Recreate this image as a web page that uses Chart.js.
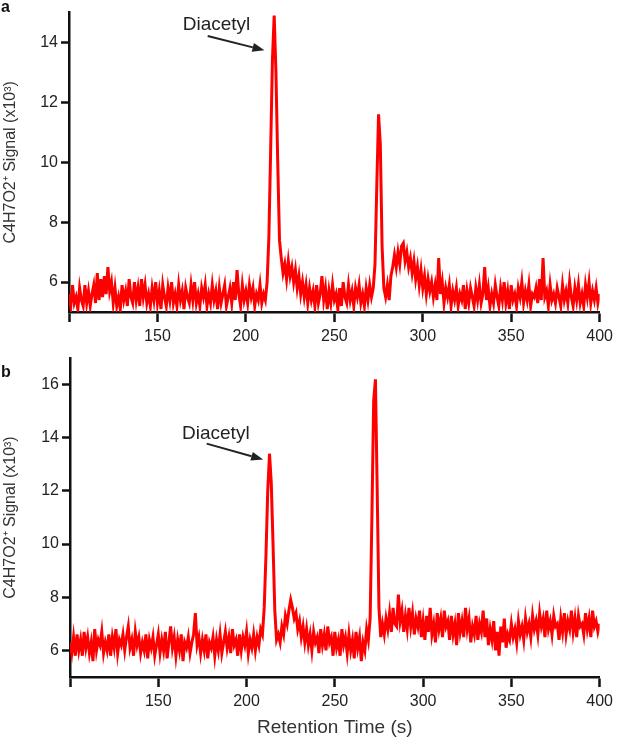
<!DOCTYPE html>
<html>
<head>
<meta charset="utf-8">
<script src="https://cdn.jsdelivr.net/npm/chart.js@4.4.1/dist/chart.umd.min.js"></script>
<style>
html,body{margin:0;padding:0;background:#fff;}
body{width:618px;height:741px;position:relative;overflow:hidden;font-family:"Liberation Sans",Arial,sans-serif;}
.panel{position:absolute;left:0;width:618px;}
#wrapA{top:0;height:345px;}
#wrapB{top:345px;height:396px;}
.tag{position:absolute;left:1px;font-weight:bold;font-size:16px;line-height:16px;color:#111;}
</style>
</head>
<body>
<div class="panel" id="wrapA"><canvas id="chartA"></canvas></div>
<div class="panel" id="wrapB"><canvas id="chartB"></canvas></div>
<div class="tag" style="top:-1px">a</div>
<div class="tag" style="top:364px">b</div>
<script>
/* GC retention traces, C4H7O2+ signal, panels a and b */

var T0=100, DT=1;            // first sample (s) and sampling step (s)
var xTicks=[100,150,200,250,300,350,400];
var yTicksA=[6,8,10,12,14];
var yTicksB=[6,8,10,12,14,16];
var yTitle='C4H7O2\u207A Signal (x10\u00B3)';
var xTitle='Retention Time (s)';

// panel a, one value per second from 100 s to 400 s (x10^3)
var signalA=[
  5.6,5.2,5.9,5.3,5.5,5.1,5.8,5.4,5.2,5.9,
  5.3,5.7,5.2,5.6,5.9,5.3,6.3,5.4,6.1,5.5,
  6.2,5.6,6.5,5.7,6.0,5.3,5.8,5.2,5.5,5.1,
  5.9,5.4,5.7,5.2,6.1,5.5,5.3,6.0,5.4,5.8,
  5.2,6.1,5.5,5.9,5.3,5.6,5.2,5.8,5.4,6.0,
  5.3,5.7,5.1,5.9,5.5,5.2,5.8,5.4,6.0,5.3,
  5.6,5.2,5.9,5.4,5.7,5.1,5.8,5.5,5.3,5.9,
  5.4,6.0,5.3,5.6,5.2,5.8,5.5,5.9,5.2,5.6,
  5.3,5.9,5.4,5.7,5.1,5.8,5.3,5.6,5.9,5.2,
  5.5,5.8,5.3,6.0,5.4,6.4,5.6,5.2,5.9,5.4,
  5.7,5.3,5.9,5.5,5.8,5.2,5.6,5.4,5.9,5.3,
  5.6,5.4,6.0,7.5,10.4,13.4,14.9,13.0,10.0,7.4,
  6.8,6.3,6.6,6.1,6.7,6.2,6.5,6.0,6.4,5.8,
  6.2,5.6,6.0,5.5,5.9,5.3,5.8,5.4,5.7,5.2,
  5.9,5.3,5.6,6.2,5.4,5.8,5.1,5.7,5.3,5.9,
  5.4,5.6,5.1,5.8,5.2,6.0,5.5,5.3,5.9,5.4,
  5.7,5.2,5.8,5.5,5.9,5.3,5.6,5.2,5.8,5.4,
  5.9,5.5,5.8,6.6,9.2,11.6,10.6,7.2,5.8,5.5,
  5.9,5.4,6.2,6.5,6.9,6.5,7.0,6.6,7.2,7.3,
  6.7,7.0,6.5,6.8,6.3,6.7,6.1,6.5,5.9,6.4,
  5.8,6.2,5.6,6.1,5.7,6.0,5.5,5.9,5.4,6.8,
  5.6,6.0,5.3,5.8,5.5,5.9,5.2,5.7,5.4,5.8,
  5.2,5.6,5.4,5.9,5.1,5.7,5.3,5.8,5.5,5.2,
  5.8,5.4,5.9,5.3,5.6,6.5,5.4,5.8,5.2,5.6,
  5.3,5.9,5.5,5.2,5.8,5.4,6.0,5.3,5.7,5.1,
  5.9,5.4,5.6,5.2,5.8,5.5,6.0,5.3,5.7,5.4,
  5.9,5.2,5.6,5.5,5.8,5.3,6.1,5.4,6.8,5.5,
  5.7,5.2,5.9,5.4,5.6,5.3,5.8,5.5,5.2,5.9,
  5.4,5.7,5.3,6.0,5.5,5.2,5.8,5.4,5.9,5.3,
  5.6,5.2,5.9,5.5,6.0,5.3,5.7,5.4,5.8,5.3,
  5.6
];

// panel b, same sampling
var signalB=[
  6.3,5.9,6.5,5.8,6.6,6.0,6.4,5.8,6.7,6.1,
  6.5,5.9,6.3,5.6,6.8,6.0,6.4,6.2,6.7,5.9,
  6.3,6.0,6.6,5.8,6.5,6.1,6.8,5.9,6.4,6.2,
  6.6,6.0,6.5,6.9,6.1,6.4,5.8,6.7,6.2,6.5,
  5.9,6.3,6.0,6.6,5.7,6.4,6.1,6.5,5.8,6.2,
  6.6,5.9,6.4,6.0,6.7,5.7,6.3,6.9,6.1,6.5,
  5.8,6.4,6.0,6.6,5.6,6.3,6.1,6.5,5.9,6.3,
  6.6,7.4,6.2,6.5,5.9,6.4,6.0,6.6,5.7,6.3,
  6.1,6.5,5.8,6.4,6.0,6.6,5.9,6.3,6.7,6.1,
  6.5,5.9,6.8,6.2,6.4,5.8,6.6,6.0,6.5,6.2,
  6.7,5.9,6.4,6.1,6.6,6.0,6.5,6.2,6.8,6.6,
  7.6,9.6,12.0,13.4,12.3,10.0,7.5,6.4,6.6,6.3,
  6.9,6.6,7.3,7.0,7.5,7.9,7.6,7.2,7.4,6.8,
  7.1,6.5,6.9,6.3,6.8,6.2,6.6,6.0,6.7,6.3,
  6.5,5.9,6.8,6.2,6.6,6.0,6.9,6.3,6.5,5.8,
  6.7,6.1,6.4,5.8,6.8,6.2,6.5,5.9,6.6,6.0,
  6.4,5.7,6.7,6.1,6.5,5.6,6.3,6.0,6.8,6.4,
  7.2,11.0,15.4,16.2,12.0,7.6,6.5,7.0,6.6,7.2,
  6.8,7.4,6.7,7.6,7.0,6.9,8.1,7.1,7.5,6.7,
  7.3,6.8,7.6,6.9,7.4,6.6,7.2,6.9,7.5,6.5,
  7.1,6.4,7.3,6.7,7.6,6.6,7.0,6.3,7.4,6.8,
  7.2,6.5,7.5,6.9,7.1,6.4,7.3,6.6,7.0,6.2,
  7.4,6.7,7.1,6.5,7.6,6.8,7.2,6.3,6.9,6.6,
  7.3,6.4,7.0,6.7,7.5,6.5,7.2,6.2,6.8,6.4,
  7.1,6.0,6.7,5.8,6.9,6.3,7.2,6.1,6.6,6.4,
  7.0,6.5,6.8,6.3,7.1,6.6,6.9,6.4,7.2,6.7,
  7.0,6.5,7.3,6.8,7.1,6.6,7.4,6.9,7.2,6.5,
  7.5,6.8,7.1,6.6,7.3,6.9,7.0,6.4,7.2,6.7,
  7.4,6.6,7.1,6.8,7.5,6.7,7.2,6.5,7.3,6.9,
  7.0,6.6,7.4,6.8,7.2,6.5,7.5,6.9,7.1,6.7,
  7.0
];

// label + arrow, in data units (s, x10^3)
var noteA={text:'Diacetyl', tx:183.4, ty:14.6, from:[178.4,14.22], to:[210.5,13.74]};
var noteB={text:'Diacetyl', tx:182.6, ty:14.16, from:[177.4,13.78], to:[209.4,13.18]};

var FONT='"Liberation Sans", Arial, sans-serif';
Chart.defaults.font.family=FONT;

function toPoints(vals){
  return vals.map(function(v,i){ return {x:T0+i*DT, y:v}; });
}

var notePlugin={
  id:'note',
  afterDatasetsDraw:function(chart,args,n){
    if(!n||!n.text) return;
    var xs=chart.scales.x, ys=chart.scales.y, ctx=chart.ctx;
    ctx.save();
    ctx.font='19px '+FONT;
    ctx.fillStyle='#222';
    ctx.textAlign='center';
    ctx.textBaseline='middle';
    ctx.fillText(n.text, xs.getPixelForValue(n.tx), ys.getPixelForValue(n.ty));
    var x1=xs.getPixelForValue(n.from[0]), y1=ys.getPixelForValue(n.from[1]);
    var x2=xs.getPixelForValue(n.to[0]),   y2=ys.getPixelForValue(n.to[1]);
    var ang=Math.atan2(y2-y1,x2-x1), head=12, half=4.5;
    var bx=x2-head*Math.cos(ang), by=y2-head*Math.sin(ang);
    ctx.strokeStyle='#222';
    ctx.lineWidth=2;
    ctx.beginPath(); ctx.moveTo(x1,y1); ctx.lineTo(bx,by); ctx.stroke();
    ctx.beginPath();
    ctx.moveTo(x2,y2);
    ctx.lineTo(bx+half*Math.sin(ang), by-half*Math.cos(ang));
    ctx.lineTo(bx-half*Math.sin(ang), by+half*Math.cos(ang));
    ctx.closePath();
    ctx.fill();
    ctx.restore();
  }
};

function makeChart(id, vals, yMax, yTicks, note, box){
  return new Chart(document.getElementById(id),{
    type:'line',
    data:{datasets:[{data:toPoints(vals),borderColor:'#ff0000',borderWidth:3,pointRadius:0,tension:0,fill:false}]},
    plugins:[notePlugin],
    options:{
      responsive:true,maintainAspectRatio:false,animation:false,
      layout:{padding:{top:box.top,right:box.right,left:0,bottom:0}},
      plugins:{legend:{display:false},tooltip:{enabled:false},note:note},
      scales:{
        x:{
          type:'linear',min:xTicks[0],max:xTicks[xTicks.length-1],
          afterBuildTicks:function(s){ s.ticks=xTicks.map(function(v){return {value:v};}); },
          afterFit:function(s){ s.height=box.xH; },
          grid:{drawOnChartArea:false,drawTicks:true,tickLength:10,tickWidth:2.5,tickColor:'#111'},
          border:{display:true,color:'#111',width:2.5},
          ticks:{padding:5,color:'#222',font:{size:16},maxRotation:0,autoSkip:false,
            callback:function(v){ return v===xTicks[0]?'':v; }},
          title:{display:box.xTitle,text:xTitle,color:'#333',font:{size:19},padding:{top:0,bottom:2}}
        },
        y:{
          type:'linear',min:5,max:yMax,
          afterBuildTicks:function(s){ s.ticks=yTicks.map(function(v){return {value:v};}); },
          afterFit:function(s){ s.width=box.yW; },
          grid:{drawOnChartArea:false,drawTicks:true,tickLength:8,tickWidth:2.5,tickColor:'#111'},
          border:{display:true,color:'#111',width:2.5},
          ticks:{padding:3,color:'#222',font:{size:16}},
          title:{display:true,text:yTitle,color:'#333',font:{size:16},padding:{top:1,bottom:0}}
        }
      }
    }
  });
}

makeChart('chartA', signalA, 15, yTicksA, noteA, {top:0,right:16,xH:33,yW:69,xTitle:false});
makeChart('chartB', signalB, 17, yTicksB, noteB, {top:13,right:14,xH:64,yW:70,xTitle:true});
</script>
</body>
</html>
